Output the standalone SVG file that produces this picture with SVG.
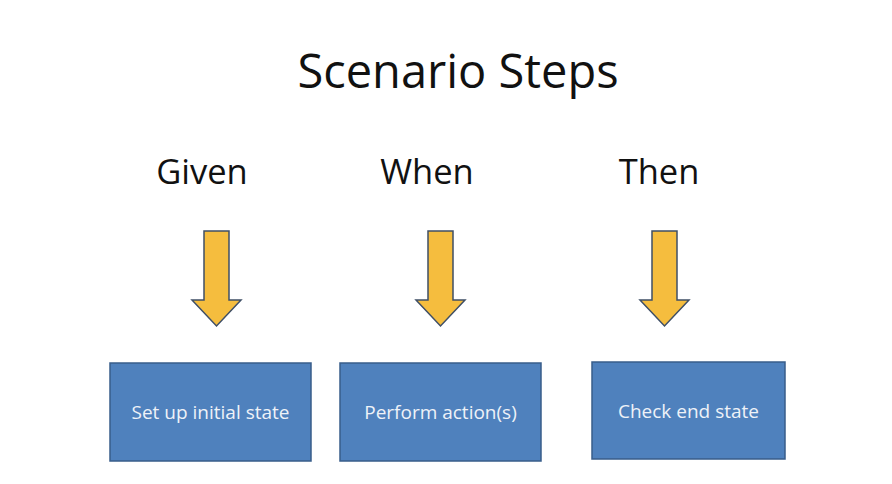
<svg xmlns="http://www.w3.org/2000/svg" width="892" height="484" viewBox="0 0 892 484">
<style>
.title{font-family:"Open Sans","Noto Sans",sans-serif;font-size:47px;fill:#111;text-anchor:middle}
.lbl{font-family:"Open Sans","Noto Sans",sans-serif;font-size:34.5px;fill:#111;text-anchor:middle}
.box{fill:#4f81bd;stroke:#385d8a;stroke-width:1.5}
.btxt{font-family:"Open Sans","Noto Sans",sans-serif;font-size:19px;fill:#eef2f8;text-anchor:middle}
.arrow{fill:#f5bd3e;stroke:#3f4f66;stroke-width:1.5;stroke-linejoin:miter}
</style>
<rect width="892" height="484" fill="#fff"/>
<text class="title" x="458" y="88">Scenario Steps</text>
<text class="lbl" x="202" y="184">Given</text>
<text class="lbl" x="427" y="184">When</text>
<text class="lbl" x="659" y="184">Then</text>
<g id="connectors">
<path class="arrow" d="M204,231 H229 V300 H241 L216.5,326 L192,300 H204 Z"/>
<path class="arrow" d="M428,231 H453 V300 H465 L440.5,326 L416,300 H428 Z"/>
<path class="arrow" d="M652,231 H677 V300 H689 L664.5,326 L640,300 H652 Z"/>
</g>
<g id="given">
<rect class="box" x="110" y="363" width="201" height="98"/>
<text class="btxt" x="210.5" y="419">Set up initial state</text>
</g>
<g id="when">
<rect class="box" x="340" y="363" width="201" height="98"/>
<text class="btxt" x="440.5" y="419">Perform action(s)</text>
</g>
<g id="then">
<rect class="box" x="592" y="362" width="193" height="97"/>
<text class="btxt" x="688.5" y="418">Check end state</text>
</g>
</svg>
